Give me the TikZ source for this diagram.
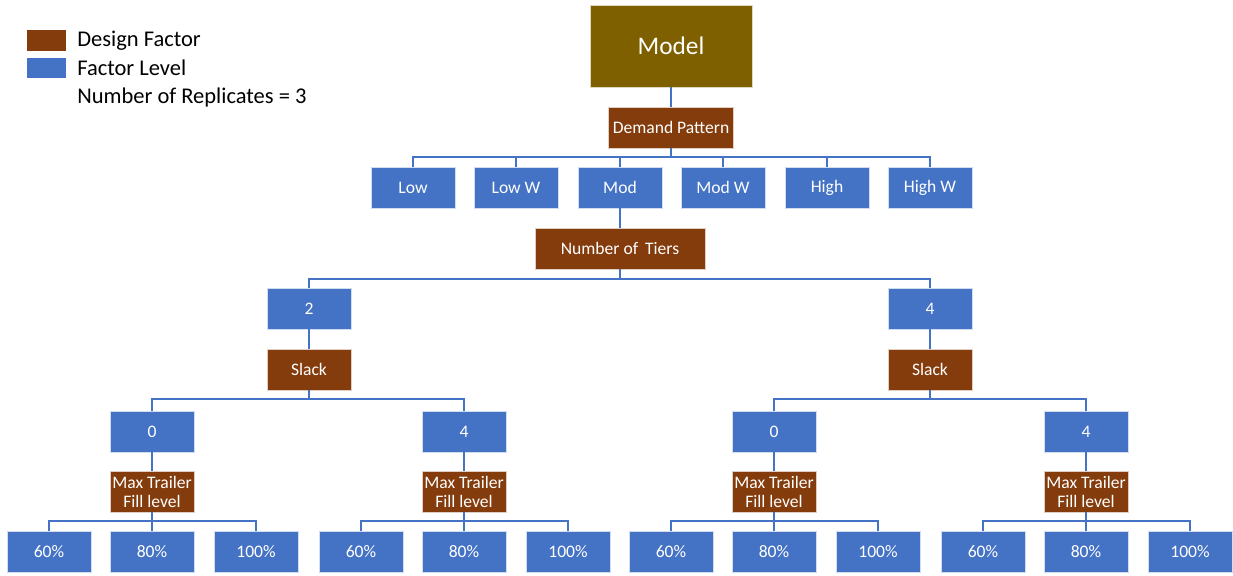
\documentclass[tikz,border=0pt]{standalone}
\usepackage{fontspec}
\setmainfont{Carlito}
\definecolor{factor}{HTML}{843C0C}
\definecolor{level}{HTML}{4472C4}
\definecolor{modelc}{HTML}{7F6000}
\tikzset{
  fbox/.style={fill=factor, draw=white!75!factor, line width=0.4pt, text=white, minimum width=2.1cm, minimum height=1.025cm, inner sep=1pt, align=center, font=\fontsize{12.5}{13.5}\selectfont},
  lbox/.style={fill=level, draw=white!75!level, line width=0.4pt, text=white, minimum width=2.1cm, minimum height=1.025cm, inner sep=1pt, align=center, font=\fontsize{12.5}{13.5}\selectfont},
  link/.style={draw=level, line width=0.8pt},
  legtext/.style={anchor=west, inner sep=0pt, font=\fontsize{16}{18}\selectfont}
}

\begin{document}
\begin{tikzpicture}[x=0.025cm,y=-0.025cm]
\useasboundingbox (0,0) rectangle (1233,575);

% legend
\fill [factor] (27,30) rectangle (66,51);
\fill [level] (27,58) rectangle (66,78);
\node [legtext] (legA) at (77,41) {Design Factor};
\node [legtext] (legB) at (77,68) {Factor Level};
\node [legtext] (legC) at (77,97) {Number of Replicates = 3};

% top
\node [fbox, fill=modelc, draw=white!75!modelc, minimum width=4.05cm, minimum height=2.05cm, font=\fontsize{18}{20}\selectfont] (model) at (671,46) {Model};
\node [fbox, minimum width=3.125cm] (demand) at (671,127.5) {Demand Pattern};
\draw [link] (model) -- (demand);

\coordinate (bar1) at (0,157);
\node [lbox] (low) at (413,187.5) {Low};
\node [lbox] (loww) at (516,187.5) {Low W};
\node [lbox] (mod) at (620,187.5) {Mod};
\node [lbox] (modw) at (723,187.5) {Mod W};
\node [lbox] (high) at (827,187.5) {High};
\node [lbox] (highw) at (930,187.5) {High W};
\foreach \c in {low,loww,mod,modw,high,highw}
  \draw [link] (demand.south) -- (demand.south |- bar1) -| (\c.north);

\node [fbox, minimum width=4.25cm] (tiers) at (620,248.5) {Number of\, Tiers};
\draw [link] (mod) -- (tiers);

%second
\coordinate (bar2) at (0,279);
\node [lbox] (two) at (309,308.5) {2};
\node [lbox] (four) at (930,308.5) {4};
\foreach \c in {two,four}
  \draw [link] (tiers.south) -- (tiers.south |- bar2) -| (\c.north);

\node [fbox] (slackA) at (309,369.5) {Slack};
\node [fbox] (slackB) at (930,369.5) {Slack};
\draw [link] (two) -- (slackA);
\draw [link] (four) -- (slackB);

\coordinate (bar3) at (0,399);
\node [lbox] (zeroA) at (152,431.5) {0};
\node [lbox] (fourA) at (464,431.5) {4};
\node [lbox] (zeroB) at (774,431.5) {0};
\node [lbox] (fourB) at (1086,431.5) {4};
\foreach \c in {zeroA,fourA}
  \draw [link] (slackA.south) -- (slackA.south |- bar3) -| (\c.north);
\foreach \c in {zeroB,fourB}
  \draw [link] (slackB.south) -- (slackB.south |- bar3) -| (\c.north);

% fill levels
\coordinate (bar4) at (0,521);
\foreach \p/\x in {zeroA/152,fourA/464,zeroB/774,fourB/1086}{
  \node [fbox] (fill\p) at (\x,491.5) {Max Trailer\\Fill level};
  \draw [link] (\p) -- (fill\p);
  \node [lbox] (sixty\p) at (\x-103,551.5) {60\%};
  \node [lbox] (eighty\p) at (\x,551.5) {80\%};
  \node [lbox] (full\p) at (\x+104,551.5) {100\%};
  \foreach \c in {sixty,eighty,full}
    \draw [link] (fill\p.south) -- (fill\p.south |- bar4) -| (\c\p.north);
}

\end{tikzpicture}
\end{document}
